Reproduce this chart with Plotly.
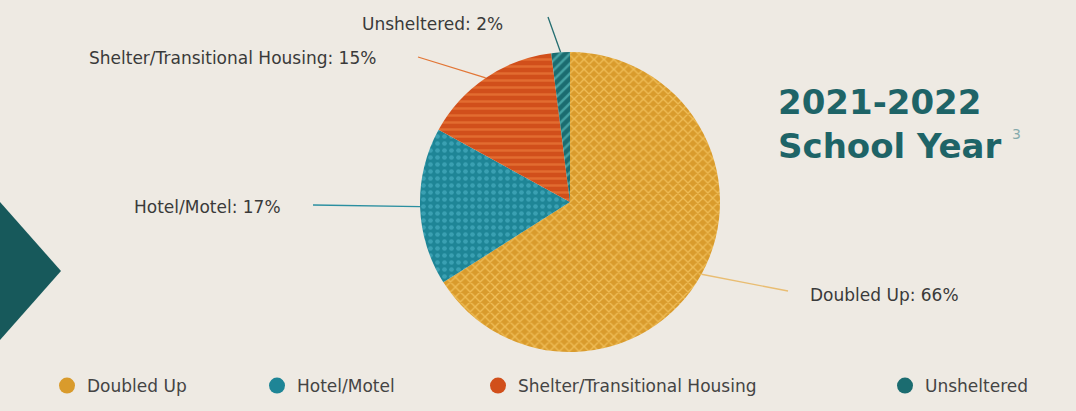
import math
import plotly.graph_objects as go

# ---- data ----
categories = ["Doubled Up", "Hotel/Motel", "Shelter/Transitional Housing", "Unsheltered"]
percent_values = [66, 17, 15, 2]
title_line1 = "2021-2022"
title_line2 = "School Year"
footnote_mark = "3"

# ---- styles ----
W, H = 1076, 411
BG = "#eeeae3"
slice_bg = ["#d99b2c", "#1e8596", "#d14f1b", "#1b6c70"]
slice_fg = ["#efbd57", "#3aa0b2", "#e26c30", "#46a3a3"]
slice_shape = ["x", ".", "-", "/"]
line_colors = ["#e9bd72", "#2a8fa0", "#e27636", "#236d70"]
legend_widths = [165, 176, 362, 115]

# pie geometry (pixels)
CX, CY, R = 570, 202, 150


def px(x):
    return x / W


def py(y):
    return 1 - y / H


fig = go.Figure()

fig.add_trace(go.Pie(
    labels=categories,
    values=percent_values,
    sort=False,
    direction="clockwise",
    rotation=0,
    textinfo="none",
    hoverinfo="label+percent",
    showlegend=False,
    marker=dict(
        colors=slice_bg,
        line=dict(width=0),
        pattern=dict(shape=slice_shape, fgcolor=slice_fg, bgcolor=slice_bg,
                     size=7, solidity=0.35, fillmode="replace"),
    ),
    domain=dict(x=[px(CX - R), px(CX + R)], y=[py(CY + R), py(CY - R)]),
))

# legend entries (circle symbols)
for cat, col, lw in zip(categories, slice_bg, legend_widths):
    fig.add_trace(go.Scatter(
        x=[None], y=[None], mode="markers", name=cat,
        marker=dict(symbol="circle", size=16, color=col),
        legendwidth=lw,
    ))

# label text positions (pixels) and leader line ends
label_pos = [(808, 295, "left"), (283, 207, "right"), (378, 58, "right"), (505, 24, "right")]
line_ends = [(788, 291), (313, 205), (418, 57), (548, 17)]

shapes = []
annotations = []
total = sum(percent_values)
cum = 0
for i, (cat, v) in enumerate(zip(categories, percent_values)):
    mid = (cum + v / 2) / total * 2 * math.pi
    cum += v
    tx = CX + R * math.sin(mid)
    ty = CY - R * math.cos(mid)
    ex, ey = line_ends[i]
    shapes.append(dict(type="line", xref="paper", yref="paper",
                       x0=px(tx), y0=py(ty), x1=px(ex), y1=py(ey),
                       line=dict(color=line_colors[i], width=1.3)))
    lx, ly, anc = label_pos[i]
    annotations.append(dict(text=f"{cat}: {v}%", xref="paper", yref="paper",
                            x=px(lx), y=py(ly), xanchor=anc, yanchor="middle",
                            showarrow=False,
                            font=dict(family="DejaVu Sans", size=17, color="#3a3a3a")))

# title
annotations.append(dict(
    text=f"<b>{title_line1}<br>{title_line2}</b>",
    xref="paper", yref="paper", x=px(776), y=py(124), xanchor="left", yanchor="middle",
    align="left", showarrow=False,
    font=dict(family="DejaVu Sans", size=34, color="#1e6467")))
annotations.append(dict(
    text=footnote_mark, xref="paper", yref="paper", x=px(1016), y=py(134),
    xanchor="center", yanchor="middle", showarrow=False,
    font=dict(family="DejaVu Sans", size=14, color="#86aaac")))

# decorative diamond on the left
shapes.append(dict(type="path", xref="paper", yref="paper",
                   path=f"M {px(-70)} {py(202)} L {px(0)} {py(202)} L {px(61)} {py(271)} L {px(0)} {py(340)} Z",
                   fillcolor="#17595b", line=dict(width=0), layer="below"))

fig.update_layout(
    width=W, height=H,
    margin=dict(l=0, r=0, t=0, b=0),
    paper_bgcolor=BG, plot_bgcolor=BG,
    xaxis=dict(visible=False), yaxis=dict(visible=False),
    shapes=shapes,
    annotations=annotations,
    legend=dict(orientation="h", x=px(47), y=py(386), xanchor="left", yanchor="middle",
                bgcolor="rgba(0,0,0,0)", itemclick=False,
                font=dict(family="DejaVu Sans", size=17, color="#444444")),
)

fig.write_html("out.html", config={"displayModeBar": False},
               post_script="document.body.style.margin='0';document.body.style.padding='0';")
